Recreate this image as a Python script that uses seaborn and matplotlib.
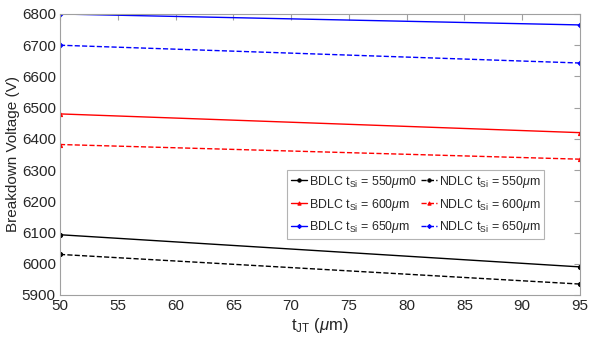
import matplotlib
matplotlib.use("Agg")
import matplotlib.pyplot as plt
import seaborn as sns
import pandas as pd

x_vals = [50, 95]
bdlc_550 = [6093, 5990]
ndlc_550 = [6030, 5935]
bdlc_600 = [6480, 6420]
ndlc_600 = [6382, 6335]
bdlc_650 = [6800, 6765]
ndlc_650 = [6700, 6643]
labels = ["BDLC t$_{\\mathrm{Si}}$ = 550$\\mu$m0", "NDLC t$_{\\mathrm{Si}}$ = 550$\\mu$m",
          "BDLC t$_{\\mathrm{Si}}$ = 600$\\mu$m", "NDLC t$_{\\mathrm{Si}}$ = 600$\\mu$m",
          "BDLC t$_{\\mathrm{Si}}$ = 650$\\mu$m", "NDLC t$_{\\mathrm{Si}}$ = 650$\\mu$m"]
series = [bdlc_550, ndlc_550, bdlc_600, ndlc_600, bdlc_650, ndlc_650]
colors = ["black", "black", "red", "red", "blue", "blue"]
styles = ["-", "--", "-", "--", "-", "--"]
markers = ["o", "o", "^", "^", "D", "D"]

sns.set_style("white")
plt.rcParams['font.family'] = ['Liberation Sans', 'DejaVu Sans']
plt.rcParams['mathtext.fontset'] = 'custom'
plt.rcParams['mathtext.rm'] = 'Liberation Sans'
plt.rcParams['mathtext.it'] = 'Liberation Sans:italic'

fig = plt.figure(figsize=(5.89, 3.39), dpi=100)
ax = fig.add_axes([60/589, 1 - 295/339, 520/589, 281/339])

for lab, vals, c, ls, m in zip(labels, series, colors, styles, markers):
    df = pd.DataFrame({"x": x_vals, "y": vals})
    sns.lineplot(data=df, x="x", y="y", ax=ax, color=c, linestyle=ls, marker=m,
                 markersize=3 if m != "D" else 2.6, markeredgecolor=c, linewidth=1.0, label=lab)

ax.set_xlim(50, 95)
ax.set_ylim(5900, 6800)
ax.set_xticks(range(50, 96, 5))
ax.set_yticks(range(5900, 6801, 100))
ax.set_xlabel("t$_{\\mathrm{JT}}$ ($\\mu$m)", fontsize=12, color="#262626", labelpad=2)
ax.set_ylabel("Breakdown Voltage (V)", fontsize=11, color="#262626", labelpad=1)
ax.tick_params(direction="in", length=4, labelsize=11, colors="#262626", top=True, right=True,
               color="#a0a0a0", pad=3)
for s in ax.spines.values():
    s.set_color("#a0a0a0")
    s.set_linewidth(0.8)

h, l = ax.get_legend_handles_labels()
order = [0, 2, 4, 1, 3, 5]
leg = ax.legend([h[i] for i in order], [l[i] for i in order], ncol=2, loc="upper left",
                bbox_to_anchor=(227/520, (295-170)/281), fontsize=8.9, frameon=True,
                fancybox=False, edgecolor="#a0a0a0", handlelength=1.3, handletextpad=0.15,
                columnspacing=0.3, labelspacing=0.55, borderpad=0.3, borderaxespad=0,
                markerscale=0.8)
leg.get_frame().set_linewidth(0.8)

fig.savefig("out.png", dpi=100)
